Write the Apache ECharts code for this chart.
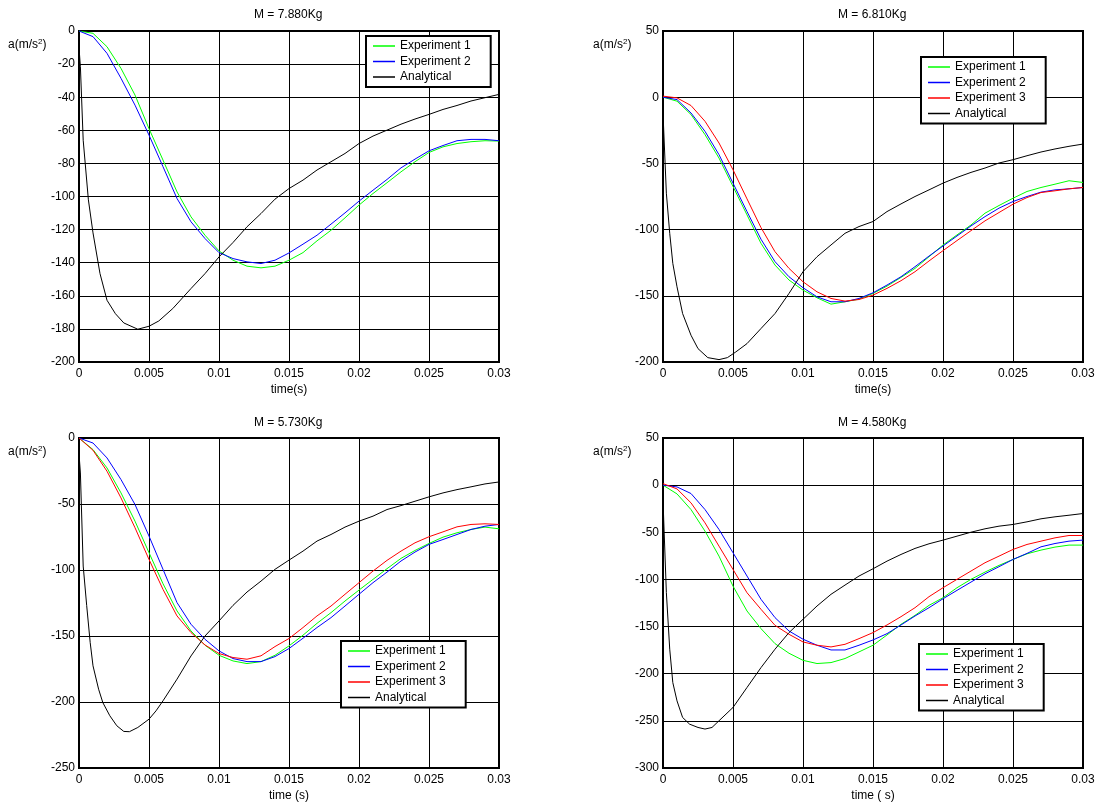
<!DOCTYPE html>
<html>
<head>
<meta charset="utf-8">
<script src="https://cdn.jsdelivr.net/npm/echarts@6/dist/echarts.min.js"></script>
<style>
html,body{margin:0;padding:0;background:#fff;}
#c{width:1099px;height:803px;}
</style>
</head>
<body>
<div id="c"></div>
<script>
// ---- time samples for experiments (s) ----
var tExp = [0,0.001,0.002,0.003,0.004,0.005,0.006,0.007,0.008,0.009,0.010,0.011,0.012,0.013,0.014,0.015,0.016,0.017,0.018,0.019,0.020,0.021,0.022,0.023,0.024,0.025,0.026,0.027,0.028,0.029,0.030];

// ---- Plot 1: M = 7.880Kg ----
var p1Exp1 = [0,-1.4,-9.5,-22.6,-38.7,-59,-78,-97.2,-112.3,-123.4,-132.9,-138.5,-142.1,-143.1,-142.1,-138.5,-133.9,-126.8,-120.4,-112.9,-105.2,-98.2,-91.7,-85.1,-79,-73.4,-70,-68,-66.9,-66.3,-66.5];
var p1Exp2 = [0,-3.4,-13.5,-28.6,-44.8,-62.9,-82,-101.2,-115.3,-125.4,-133.9,-137.5,-139.5,-140.5,-138.5,-134.1,-128.8,-123.4,-116.7,-109.9,-102.8,-96.2,-89.7,-82.7,-77.4,-72.4,-69.2,-66.3,-65.5,-65.5,-66.3];
var p1AnaT = [0,0.0001,0.0003,0.00067,0.001,0.0015,0.002,0.0026,0.0032,0.0042,0.005,0.0057,0.0067,0.008,0.009,0.010,0.011,0.012,0.013,0.014,0.015,0.016,0.017,0.018,0.019,0.020,0.021,0.022,0.023,0.024,0.025,0.026,0.027,0.028,0.029,0.030];
var p1Ana = [-10,-21.6,-66,-102,-122,-146.6,-162.7,-170.8,-176.4,-180.2,-178.4,-175.2,-167.7,-155.6,-146.6,-136.5,-127.8,-118.3,-110.3,-101.6,-95.2,-90.1,-84,-79,-74,-68,-63.5,-59.9,-56.3,-53.2,-50.4,-47.4,-45,-42.3,-40.3,-38.3];

// ---- Plot 2: M = 6.810Kg ----
var p2Exp1 = [0,-3,-13.1,-28.3,-46,-67.4,-88.9,-110.4,-126.8,-138.1,-145.7,-151.5,-156.3,-154.5,-152.5,-148.2,-142.7,-136.1,-129.3,-120.5,-111.6,-104,-96.5,-87.6,-81.8,-76.3,-71.2,-68.2,-65.7,-63.1,-64.4];
var p2Exp2 = [0,-1.8,-11.9,-25.8,-43.4,-64.9,-86.4,-107.3,-124.2,-135.6,-143.9,-150.8,-154.5,-154.5,-152,-147.7,-141.9,-135.6,-128,-120,-112.4,-104.8,-97.2,-90.2,-83.8,-78.8,-75,-71.7,-70,-69.2,-68.2];
var p2Exp3 = [0.8,-0.5,-6.3,-18.2,-34.6,-54.8,-76.8,-98.5,-116.7,-129.3,-139.4,-147,-152,-154,-152.8,-149.5,-144.4,-138.6,-131.8,-123.7,-115.9,-108.3,-100.8,-93.4,-87.1,-80.8,-75.8,-72,-70.7,-69.2,-68.2];
var p2AnaT = [0,0.00005,0.00024,0.00048,0.0007,0.001,0.0014,0.002,0.0025,0.0032,0.004,0.0046,0.0052,0.006,0.007,0.008,0.009,0.010,0.011,0.012,0.013,0.014,0.015,0.016,0.017,0.018,0.019,0.020,0.021,0.022,0.023,0.024,0.025,0.026,0.027,0.028,0.029,0.030];
var p2Ana = [-12,-24.5,-72.5,-102.8,-125.5,-143.2,-163.4,-179.8,-189.9,-196.7,-198.2,-196.7,-192.4,-186.1,-174.7,-163.4,-148.2,-131.8,-120.5,-111.6,-102.8,-97.7,-93.9,-86.4,-80.6,-75,-70,-64.9,-60.6,-56.8,-53.5,-49.7,-47.2,-44.2,-41.4,-39.1,-37.1,-35.4];

// ---- Plot 3: M = 5.730Kg ----
var p3Exp1 = [0,-8.8,-22.7,-41.6,-63,-86.9,-110.4,-131,-146.2,-157,-164.6,-168.9,-170.9,-169.4,-164.6,-157.5,-149.4,-140.4,-132.3,-123.5,-115.2,-107.1,-99,-91.2,-85.2,-79.9,-75.1,-71.8,-69.3,-67.5,-68.8];
var p3Exp2 = [0,-3.8,-15.1,-31.5,-50.4,-74.3,-99.5,-124.7,-141.1,-152.5,-161.3,-167.1,-169.4,-169.4,-165.6,-159.5,-151.7,-143.6,-136.1,-127.3,-118.4,-109.6,-101.6,-93.2,-86.4,-80.6,-76.9,-73.1,-69.3,-66.8,-65.5];
var p3Exp3 = [0,-9.3,-25.2,-45.4,-68,-92,-114.7,-134.8,-147.4,-156.8,-163.3,-166.3,-167.6,-165,-158,-151.9,-143.6,-134.8,-127.3,-118.4,-109.6,-100.8,-92.7,-85.7,-79.4,-74.8,-71.1,-67.3,-65.5,-65,-65.5];
var p3AnaT = [0,0.0001,0.0003,0.00055,0.0008,0.001,0.0014,0.0017,0.0022,0.0027,0.0032,0.0036,0.0042,0.005,0.0055,0.006,0.007,0.008,0.009,0.010,0.011,0.012,0.013,0.014,0.015,0.016,0.017,0.018,0.019,0.020,0.021,0.022,0.023,0.024,0.025,0.026,0.027,0.028,0.029,0.030];
var p3Ana = [-12,-26.5,-97,-127,-155,-172.6,-190.3,-200.4,-210.4,-218,-222.3,-222.5,-219.3,-213,-206.7,-199.1,-182.7,-165.1,-150,-138.6,-126.8,-116.7,-108.4,-99.5,-92.5,-85.7,-78.1,-73.1,-67.5,-63,-59.2,-54.2,-51.2,-47.9,-44.6,-41.6,-39.1,-37,-34.8,-33.3];

// ---- Plot 4: M = 4.580Kg ----
var p4Exp1 = [0,-9.3,-25.9,-48.8,-75.3,-107.1,-133.5,-152.2,-168.1,-178.3,-185.8,-189.2,-188.2,-183.9,-176.9,-169.8,-158.9,-147.6,-138.1,-127.5,-119.4,-108.8,-99.9,-92.2,-85.1,-78.8,-72.8,-68.9,-65.7,-63.6,-63.6];
var p4Exp2 = [0,-1.9,-8.9,-25.9,-47,-71.7,-96.4,-121.1,-140.5,-154.7,-163.4,-169.8,-174.8,-174.8,-169.8,-164.2,-157.5,-148.3,-138.8,-130,-120.5,-111.6,-102.8,-94,-86.5,-78.8,-72.4,-65.4,-61.9,-59.4,-58.3];
var p4Exp3 = [1.6,-4,-18.8,-40,-64.7,-89.4,-114.1,-131.7,-148.7,-158.2,-166.3,-169.8,-171.6,-168.8,-162.8,-156.4,-148.3,-139.5,-130,-118.3,-108.8,-99.9,-91.1,-82.3,-75.3,-68.2,-62.9,-59.4,-55.9,-53.4,-53.4];
var p4AnaT = [0,0.00005,0.00024,0.00048,0.0007,0.001,0.0014,0.0019,0.0025,0.003,0.0035,0.004,0.005,0.006,0.007,0.008,0.009,0.010,0.011,0.012,0.013,0.014,0.015,0.016,0.017,0.018,0.019,0.020,0.021,0.022,0.023,0.024,0.025,0.026,0.027,0.028,0.029,0.030];
var p4Ana = [-15,-36.4,-114,-174,-209.4,-228.8,-246.4,-253.5,-257,-258.7,-257,-249.9,-235.8,-214.6,-193.5,-174,-156.4,-142.3,-128.2,-115.8,-106,-96.4,-88.7,-80.6,-73.5,-67.1,-62.2,-58.3,-54.1,-49.9,-46.3,-43.5,-41.7,-38.9,-35.7,-33.6,-31.9,-30.1];

// ---- labels ----
var titles = ['M = 7.880Kg','M = 6.810Kg','M = 5.730Kg','M = 4.580Kg'];
var xNames = ['time(s)','time(s)','time (s)','time ( s)'];
var yMin = [-200,-200,-250,-300];
var yMax = [0,50,0,50];
var yInterval = [20,50,50,50];
var seriesNames = ['Experiment 1','Experiment 2','Experiment 3','Analytical'];
var colors = {'Experiment 1':'#00ff00','Experiment 2':'#0000ff','Experiment 3':'#ff0000','Analytical':'#000000'};

function zip(t, v){ var out=[]; for(var i=0;i<v.length;i++) out.push([t[i], v[i]]); return out; }

var FONT = 'Liberation Sans, Arial, Helvetica, sans-serif';
var grids = [
  {left:79, top:31, width:420, height:331},
  {left:663, top:31, width:420, height:331},
  {left:79, top:438, width:420, height:331},
  {left:663, top:438, width:420, height:331}
];

var plots = [
  [['Experiment 1', zip(tExp,p1Exp1)], ['Experiment 2', zip(tExp,p1Exp2)], ['Analytical', zip(p1AnaT,p1Ana)]],
  [['Experiment 1', zip(tExp,p2Exp1)], ['Experiment 2', zip(tExp,p2Exp2)], ['Experiment 3', zip(tExp,p2Exp3)], ['Analytical', zip(p2AnaT,p2Ana)]],
  [['Experiment 1', zip(tExp,p3Exp1)], ['Experiment 2', zip(tExp,p3Exp2)], ['Experiment 3', zip(tExp,p3Exp3)], ['Analytical', zip(p3AnaT,p3Ana)]],
  [['Experiment 1', zip(tExp,p4Exp1)], ['Experiment 2', zip(tExp,p4Exp2)], ['Experiment 3', zip(tExp,p4Exp3)], ['Analytical', zip(p4AnaT,p4Ana)]]
];

var legendPos = [
  {left:366, top:36},
  {left:921, top:57},
  {left:341, top:641},
  {left:919, top:644}
];

var titleComps = [];
var titleCenters = [[289,9],[873,9],[289,417],[873,417]];
titles.forEach(function(t,i){
  titleComps.push({text:t, left:titleCenters[i][0]-35, top:titleCenters[i][1], padding:0,
    textStyle:{fontSize:12, fontWeight:'normal', color:'#000', fontFamily:FONT}});
});
var yNamePos = [[8,38],[593,38],[8,445],[593,445]];
yNamePos.forEach(function(p){
  titleComps.push({text:'a(m/s{sup|2})', left:p[0], top:p[1], padding:0,
    textStyle:{fontSize:12, fontWeight:'normal', color:'#000', fontFamily:FONT,
      rich:{sup:{fontSize:8, color:'#000', fontFamily:FONT, verticalAlign:'top', padding:[0,0,6,0]}}}});
});

var xAxes=[], yAxes=[], series=[], legends=[];
grids.forEach(function(g,i){
  g.show = true; g.borderColor = '#000'; g.borderWidth = 2; g.backgroundColor = '#fff';
  xAxes.push({type:'value', gridIndex:i, min:0, max:0.03, interval:0.005,
    name:xNames[i], nameLocation:'middle', nameGap:22,
    nameTextStyle:{fontSize:12, color:'#000', fontFamily:FONT},
    axisLine:{show:true, onZero:false, lineStyle:{color:'#000', width:2}},
    axisTick:{show:false},
    axisLabel:{fontSize:12, color:'#000', fontFamily:FONT, margin:6, showMinLabel:true, showMaxLabel:true},
    splitLine:{show:true, lineStyle:{color:'#000', width:1}}
  });
  yAxes.push({type:'value', gridIndex:i, min:yMin[i], max:yMax[i], interval:yInterval[i],
    axisLine:{show:true, onZero:false, lineStyle:{color:'#000', width:2}},
    axisTick:{show:false},
    axisLabel:{fontSize:12, color:'#000', fontFamily:FONT, margin:4, showMinLabel:true, showMaxLabel:true},
    splitLine:{show:true, lineStyle:{color:'#000', width:1}}
  });
  var names=[];
  plots[i].forEach(function(s){
    names.push(s[0]);
    series.push({type:'line', name:s[0], xAxisIndex:i, yAxisIndex:i, data:s[1],
      showSymbol:false, symbol:'none', smooth:false, animation:false,
      lineStyle:{color:colors[s[0]], width:1}, itemStyle:{color:colors[s[0]]}, z:3});
  });
  legends.push({data:names, orient:'vertical', left:legendPos[i].left, top:legendPos[i].top,
    padding:[4,20,4,7], itemGap:3.5, itemWidth:22, itemHeight:1.5, icon:'rect',
    backgroundColor:'#fff', borderColor:'#000', borderWidth:2, borderRadius:0,
    selectedMode:false,
    textStyle:{fontSize:12, color:'#000', fontFamily:FONT}});
});

var chart = echarts.init(document.getElementById('c'), null, {renderer:'canvas'});
chart.setOption({
  backgroundColor:'#fff',
  animation:false,
  title:titleComps,
  legend:legends,
  grid:grids,
  xAxis:xAxes,
  yAxis:yAxes,
  series:series
});
</script>
</body>
</html>
